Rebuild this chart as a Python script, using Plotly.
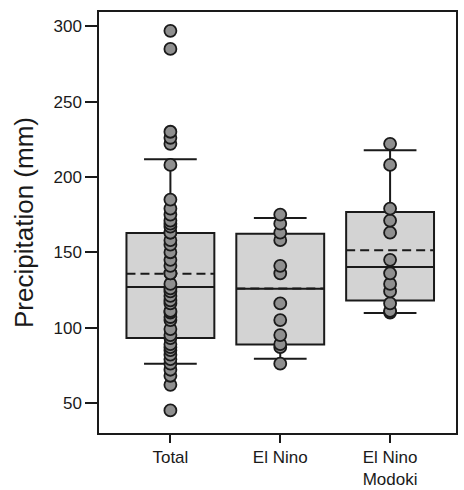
import plotly.graph_objects as go

# Groups along the x axis
categories = ["Total", "El Nino", "El Nino<br>Modoki"]

# Precipitation (mm) for each year in the group
total_values = [45, 62, 68, 72, 76, 79, 82, 85, 87, 89, 93, 95, 99, 105, 107,
                110, 111, 116, 118, 121, 124, 126, 129, 136, 136, 141, 145, 150,
                155, 158, 163, 163, 167, 169, 171, 175, 179, 185, 208, 222, 226,
                230, 285, 297]
elnino_values = [76, 87, 89, 95, 105, 116, 136, 141, 158, 163, 169, 175]
modoki_values = [110, 111, 116, 124, 129, 136, 145, 163, 171, 179, 208, 222]

# Box summary: 10th / 25th / 50th / 75th / 90th percentiles and mean
p10 = [76, 79.3, 109.6]
q1 = [93, 88.8, 118]
median = [127, 125.8, 140.2]
q3 = [162.7, 162.3, 176.7]
p90 = [211.7, 172.7, 217.7]
mean = [135.8, 125.9, 151.3]

y_ticks = [50, 100, 150, 200, 250, 300]

font_family = "Liberation Sans, Arial, sans-serif"
ink = "#1a1a1a"
box_width = 0.8

positions = list(range(len(categories)))

fig = go.Figure()

fig.add_trace(go.Box(
    x=positions,
    q1=q1, median=median, q3=q3,
    lowerfence=p10, upperfence=p90,
    boxpoints=False,
    width=box_width,
    whiskerwidth=0.6,
    fillcolor="#d3d3d3",
    line=dict(color=ink, width=2),
    showlegend=False,
    hoverinfo="skip",
))

# Dashed mean line across each box
mean_x, mean_y = [], []
for pos, m in zip(positions, mean):
    mean_x += [pos - box_width / 2, pos + box_width / 2, None]
    mean_y += [m, m, None]
fig.add_trace(go.Scatter(
    x=mean_x, y=mean_y, mode="lines",
    line=dict(color=ink, width=2, dash="9px,5px"),
    showlegend=False, hoverinfo="skip",
))

for pos, vals in zip(positions, [total_values, elnino_values, modoki_values]):
    fig.add_trace(go.Scatter(
        x=[pos] * len(vals),
        y=vals,
        mode="markers",
        marker=dict(size=12, color="#8f8f8f",
                    line=dict(color=ink, width=1.8)),
        showlegend=False,
        hoverinfo="y",
    ))

fig.update_layout(
    width=464, height=490,
    margin=dict(l=99, r=8, t=12, b=57),
    paper_bgcolor="white",
    plot_bgcolor="white",
    font=dict(family=font_family, size=17, color=ink),
)

fig.update_xaxes(
    tickvals=positions, ticktext=categories,
    range=[-0.65, 2.6],
    automargin=False,
    showline=True, linecolor=ink, linewidth=1.5, mirror=True,
    ticks="outside", ticklen=8, tickwidth=1.5, tickcolor=ink,
    showgrid=False, zeroline=False,
    tickfont=dict(size=17),
)

fig.update_yaxes(
    range=[30, 309.5],
    tickvals=y_ticks,
    automargin=False,
    showline=True, linecolor=ink, linewidth=1.5, mirror=True,
    ticks="outside", ticklen=12, tickwidth=1.5, tickcolor=ink,
    showgrid=False, zeroline=False,
    tickfont=dict(size=17),
    title=dict(text="Precipitation (mm)", font=dict(size=26), standoff=12),
)

fig.write_html("out.html")
